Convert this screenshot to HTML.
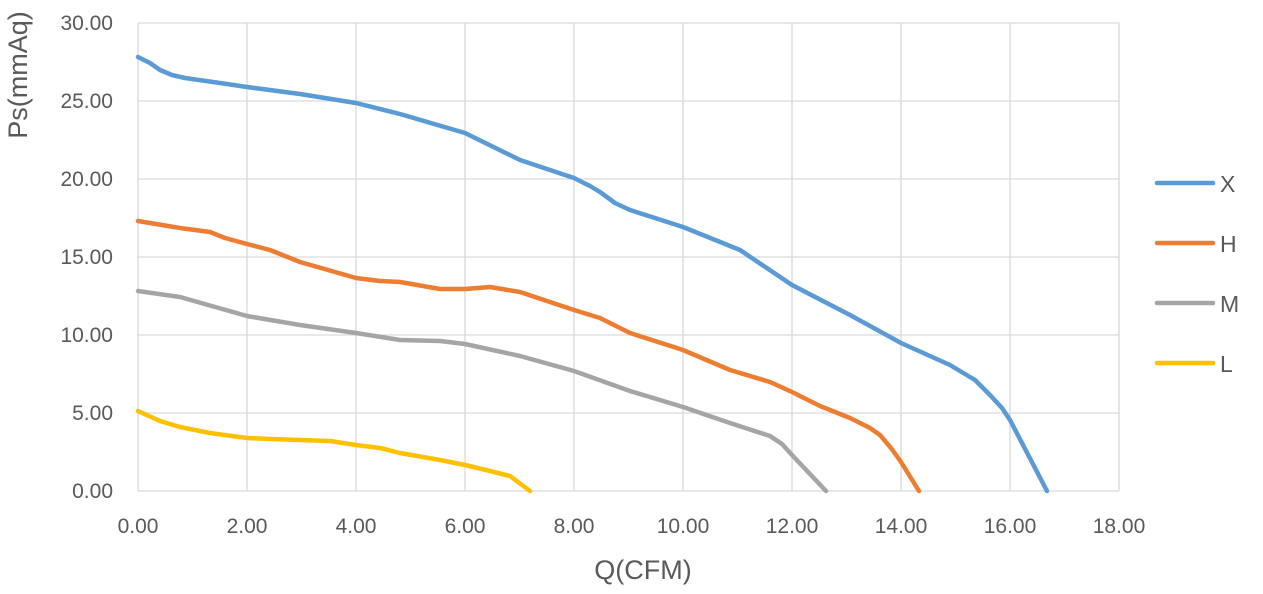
<!DOCTYPE html>
<html><head><meta charset="utf-8"><style>
html,body{margin:0;padding:0;background:#fff;}
svg text{font-family:"Liberation Sans",sans-serif;fill:#595959;}
</style></head><body>
<svg width="1263" height="589" viewBox="0 0 1263 589" xmlns="http://www.w3.org/2000/svg">
<g stroke="#d9d9d9" stroke-width="1.3" fill="none">
<line x1="138" y1="23" x2="1119" y2="23"/><line x1="138" y1="101" x2="1119" y2="101"/>
<line x1="138" y1="179" x2="1119" y2="179"/><line x1="138" y1="257" x2="1119" y2="257"/>
<line x1="138" y1="335" x2="1119" y2="335"/><line x1="138" y1="413" x2="1119" y2="413"/>
<line x1="247" y1="23" x2="247" y2="491"/><line x1="356" y1="23" x2="356" y2="491"/>
<line x1="465" y1="23" x2="465" y2="491"/><line x1="574" y1="23" x2="574" y2="491"/>
<line x1="683" y1="23" x2="683" y2="491"/><line x1="792" y1="23" x2="792" y2="491"/>
<line x1="901" y1="23" x2="901" y2="491"/><line x1="1010" y1="23" x2="1010" y2="491"/>
<line x1="1119" y1="23" x2="1119" y2="491"/><line x1="138" y1="23" x2="138" y2="491"/>
<line x1="138" y1="491" x2="1119" y2="491"/>
</g>
<g fill="none" stroke-width="4.5" stroke-linejoin="round" stroke-linecap="round">
<polyline stroke="#5B9BD5" points="138,57 150,63 160,70 172,75 185,78 220,83 247,87 300,94 356,103 400,114 465,133 520,160 574,178 590,186 600,192 615,203 630,210 683,227 740,250 792,285 850,315 901,343 950,365 975,380 990,395 1002,408 1010,420 1047,491"/>
<polyline stroke="#ED7D31" points="138,221 180,228 210,232 225,238 247,244 270,250 300,262 356,278 380,281 400,282 440,289 465,289 490,287 520,292 574,310 600,318 630,333 683,350 730,370 770,382 792,392 820,406 850,418 870,428 880,435 891,448 901,462 919,491"/>
<polyline stroke="#A5A5A5" points="138,291 180,297 247,316 300,325 356,333 400,340 440,341 465,344 520,356 574,371 630,391 683,407 730,423 770,436 782,444 792,455 826,491"/>
<polyline stroke="#FFC000" points="138,411 160,421 180,427 210,433 247,438 270,439 300,440 330,441 356,445 380,448 400,453 440,460 465,465 490,471 510,476 530,491"/>
<line stroke="#5B9BD5" x1="1157" y1="183" x2="1213" y2="183"/>
<line stroke="#ED7D31" x1="1157" y1="243" x2="1213" y2="243"/>
<line stroke="#A5A5A5" x1="1157" y1="303" x2="1213" y2="303"/>
<line stroke="#FFC000" x1="1157" y1="363" x2="1213" y2="363"/>
</g>
<g font-size="23">
<text x="1220" y="192">X</text><text x="1220" y="252">H</text><text x="1220" y="312">M</text><text x="1220" y="372">L</text>
</g>
<g font-size="21" text-anchor="end">
<text x="113" y="30">30.00</text><text x="113" y="108">25.00</text><text x="113" y="186">20.00</text>
<text x="113" y="264">15.00</text><text x="113" y="342">10.00</text><text x="113" y="420">5.00</text><text x="113" y="498">0.00</text>
</g>
<g font-size="21" text-anchor="middle">
<text x="138" y="533">0.00</text><text x="247" y="533">2.00</text><text x="356" y="533">4.00</text>
<text x="465" y="533">6.00</text><text x="574" y="533">8.00</text><text x="683" y="533">10.00</text>
<text x="792" y="533">12.00</text><text x="901" y="533">14.00</text><text x="1010" y="533">16.00</text><text x="1119" y="533">18.00</text>
<text x="643" y="579" font-size="27">Q(CFM)</text>
<text transform="translate(27,75) rotate(-90)" font-size="27">Ps(mmAq)</text>
</g>
</svg>
</body></html>
